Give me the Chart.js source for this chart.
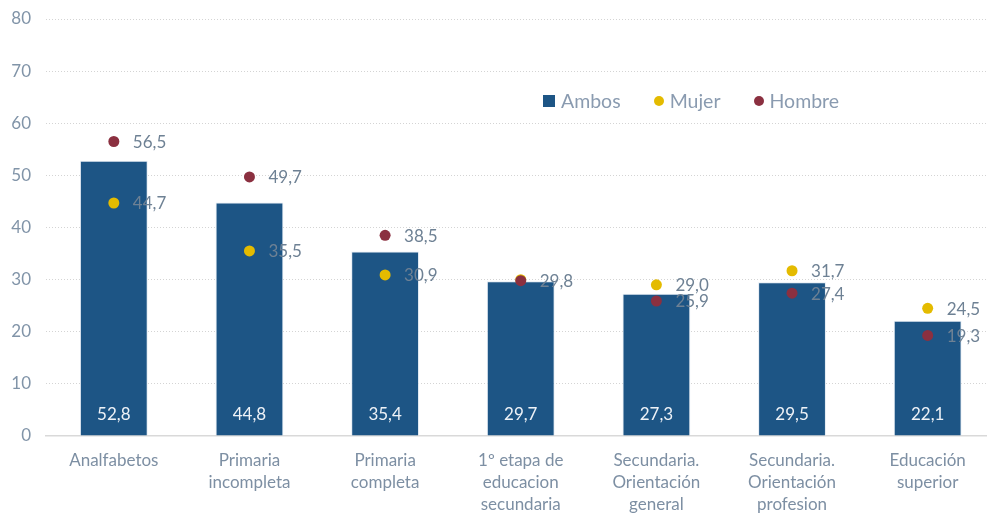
<!DOCTYPE html>
<html>
<head>
<meta charset="utf-8">
<script src="https://cdn.jsdelivr.net/npm/chart.js@4"></script>
<style>
  html, body { margin: 0; padding: 0; background: #fff; }
  #wrap { position: relative; width: 987px; height: 516px; overflow: hidden; }
  #chart-box { position: absolute; left: 0; top: 0; width: 1001px; height: 516px; }
  #legend { position: absolute; left: 543px; top: 86px; font-family: Lato, sans-serif; font-size: 19.5px; color: #8a9bb0; white-space: nowrap; }
  #legend span.item { display: inline-block; margin-right: 28px; vertical-align: middle; }
  #legend i { display: inline-block; vertical-align: middle; margin-right: 6px; position: relative; top: -2px; }
  #legend i.sq { width: 12px; height: 12px; background: #1d5585; }
  #legend i.dot { width: 10px; height: 10px; border-radius: 50%; }
</style>
</head>
<body>
<div id="wrap">
  <div id="chart-box"><canvas id="nivelChart" width="1001" height="516"></canvas></div>
  <div id="legend">
    <span class="item"><i class="sq"></i>Ambos</span>
    <span class="item"><i class="dot" style="background:#e4bb00"></i>Mujer</span>
    <span class="item"><i class="dot" style="background:#8b3040"></i>Hombre</span>
  </div>
</div>
<script>
// Data
const categories = [
    ['Analfabetos'],
    ['Primaria', 'incompleta'],
    ['Primaria', 'completa'],
    ['1º etapa de', 'educacion', 'secundaria'],
    ['Secundaria.', 'Orientación', 'general'],
    ['Secundaria.', 'Orientación', 'profesion'],
    ['Educación', 'superior']
];
const ambos = [52.8, 44.8, 35.4, 29.7, 27.3, 29.5, 22.1];
const mujer = [44.7, 35.5, 30.9, 30.0, 29.0, 31.7, 24.5];
const hombre = [56.5, 49.7, 38.5, 29.8, 25.9, 27.4, 19.3];
const yTicks = [0, 10, 20, 30, 40, 50, 60, 70, 80];

const fmt = v => v.toFixed(1).replace('.', ',');

// Draw value labels: inside bars at the bottom, to the right of points
const valueLabels = {
    id: 'valueLabels',
    afterDatasetsDraw(chart) {
        const ctx = chart.ctx;
        const bottom = chart.chartArea.bottom;
        ctx.save();
        ctx.font = '17px Lato, sans-serif';
        ctx.textBaseline = 'middle';

        const barMeta = chart.getDatasetMeta(0);
        ctx.fillStyle = '#eef2f7';
        ctx.textAlign = 'center';
        barMeta.data.forEach((bar, i) => {
            ctx.fillText(fmt(ambos[i]), bar.x, bottom - 21);
        });

        ctx.fillStyle = '#6e8194';
        ctx.textAlign = 'left';
        const mujMeta = chart.getDatasetMeta(1);
        const homMeta = chart.getDatasetMeta(2);
        mujMeta.data.forEach((pt, i) => {
            // skip when it would sit right under the Hombre label
            if (Math.abs(mujer[i] - hombre[i]) < 0.5) return;
            ctx.fillText(fmt(mujer[i]), pt.x + 19, pt.y + 1);
        });
        homMeta.data.forEach((pt, i) => {
            ctx.fillText(fmt(hombre[i]), pt.x + 19, pt.y + 1);
        });
        ctx.restore();
    }
};

new Chart(document.getElementById('nivelChart'), {
    type: 'bar',
    data: {
        labels: categories,
        datasets: [
            {
                label: 'Ambos',
                data: ambos,
                backgroundColor: '#1d5585',
                borderColor: 'rgba(220,230,240,0.8)',
                borderWidth: 1,
                categoryPercentage: 1,
                barPercentage: 0.5,
                order: 3
            },
            {
                type: 'line',
                label: 'Mujer',
                data: mujer,
                showLine: false,
                pointRadius: 5.5,
                pointBackgroundColor: '#e4bb00',
                pointBorderWidth: 0,
                order: 2
            },
            {
                type: 'line',
                label: 'Hombre',
                data: hombre,
                showLine: false,
                pointRadius: 5.5,
                pointBackgroundColor: '#8b3040',
                pointBorderWidth: 0,
                order: 1
            }
        ]
    },
    options: {
        responsive: false,
        animation: false,
        layout: { padding: { top: 19, right: 1, left: 0, bottom: 0 } },
        plugins: {
            legend: { display: false },
            tooltip: { enabled: false }
        },
        scales: {
            x: {
                grid: { display: false, drawTicks: false },
                border: { display: true, color: '#d9d9d9', width: 1.5 },
                ticks: {
                    color: '#7d8fa3',
                    padding: 13,
                    maxRotation: 0,
                    autoSkip: false,
                    font: { family: 'Lato, sans-serif', size: 17, lineHeight: 1.3 }
                },
                afterFit(scale) { scale.height = 80; }
            },
            y: {
                min: 0,
                max: 80,
                afterBuildTicks(scale) { scale.ticks = yTicks.map(v => ({ value: v })); },
                grid: {
                    drawTicks: true,
                    tickLength: 15,
                    tickColor: 'rgba(0,0,0,0)',
                    color: ctx => ctx.tick && ctx.tick.value === 0 ? 'rgba(0,0,0,0)' : '#d4d4d4',
                    lineWidth: 1
                },
                border: { display: false, dash: [1, 2] },
                ticks: {
                    color: '#8194a8',
                    padding: 0,
                    font: { family: 'Lato, sans-serif', size: 17 }
                },
                afterFit(scale) { scale.width = 46; }
            }
        }
    },
    plugins: [valueLabels]
});
</script>
</body>
</html>
